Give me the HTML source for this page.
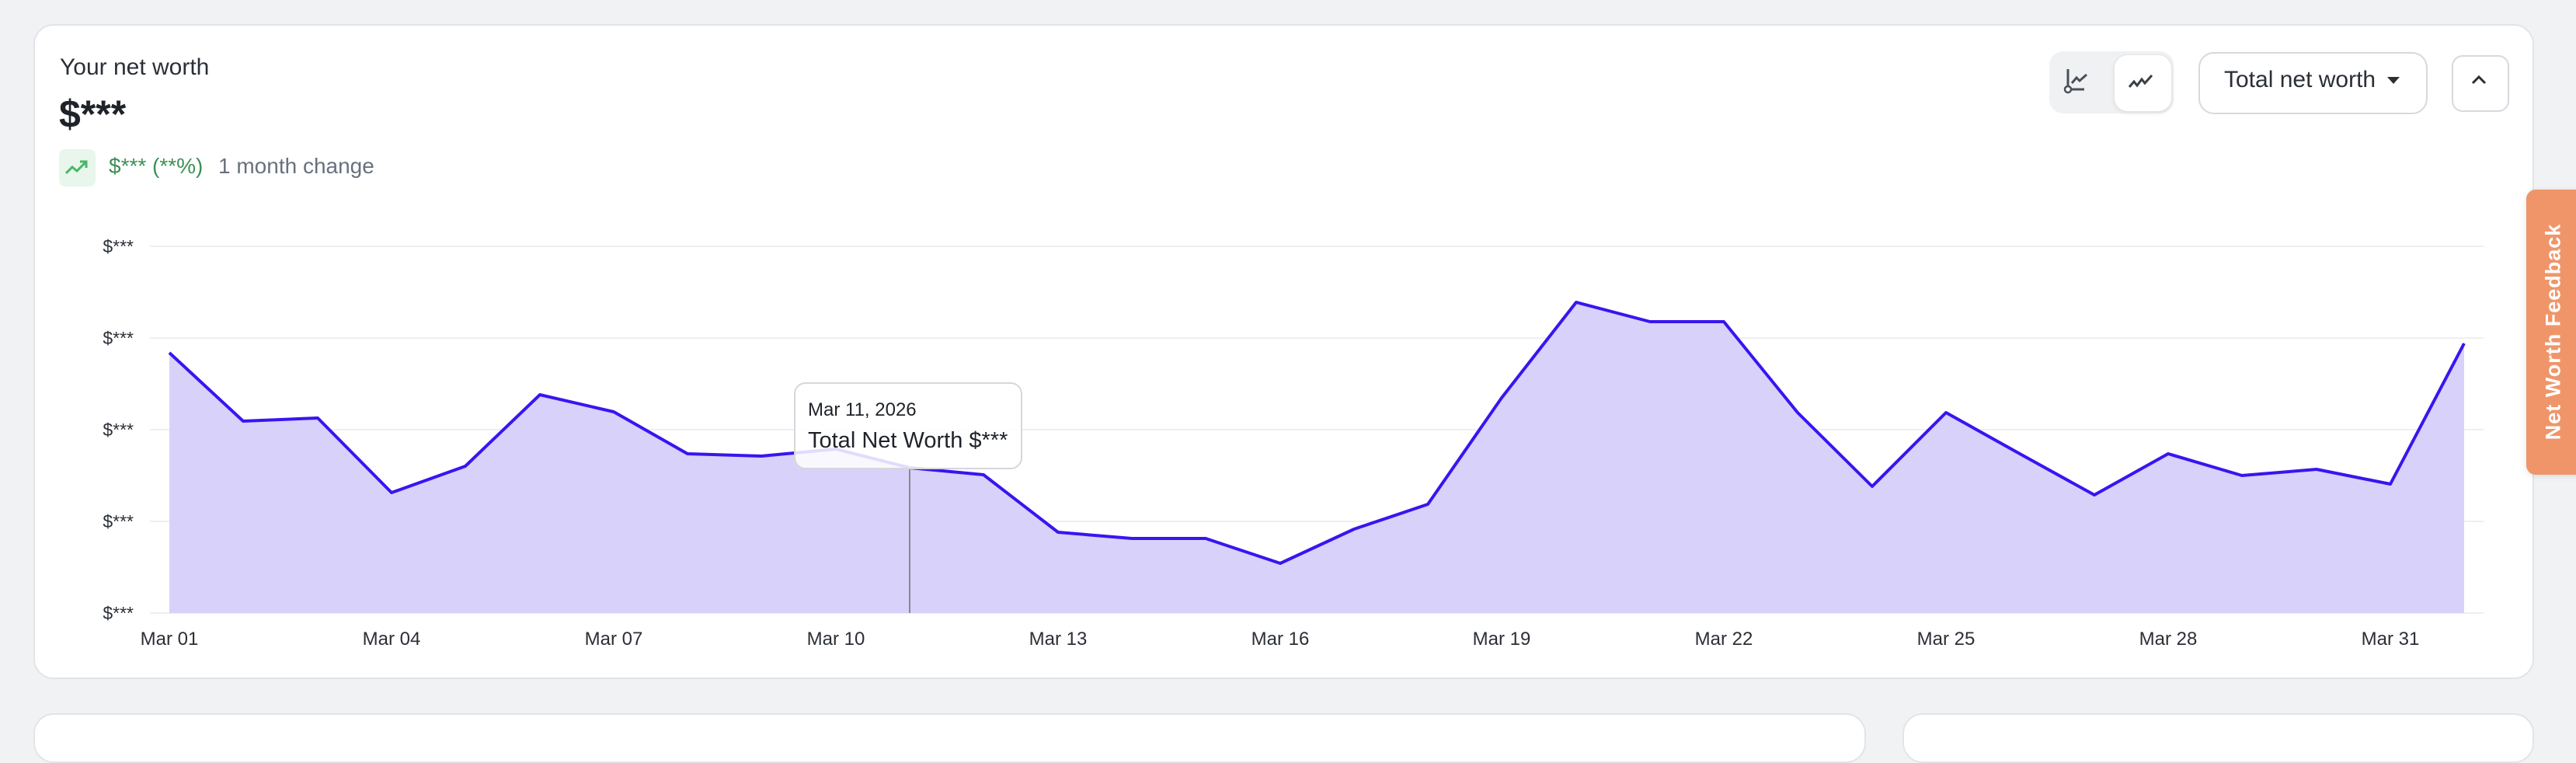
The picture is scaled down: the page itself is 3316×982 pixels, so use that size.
<!DOCTYPE html>
<html><head><meta charset="utf-8"><style>
html,body{margin:0;padding:0;width:3316px;height:926px;overflow:hidden;background:#f1f2f4;font-family:"Liberation Sans",sans-serif;}
.card{position:absolute;background:#fff;border:2px solid #e2e4e8;border-radius:26px;}
.t{position:absolute;white-space:nowrap;}
</style></head><body>
<div class="card" style="left:43px;top:31px;width:3215px;height:839px;"></div>
<div class="card" style="left:43px;top:918px;width:2355px;height:60px;"></div>
<div class="card" style="left:2449px;top:918px;width:809px;height:60px;"></div>

<div class="t" style="left:77px;top:70px;font-size:30px;color:#2b2f36;">Your net worth</div>
<div class="t" style="left:76px;top:118px;font-size:50px;font-weight:bold;color:#1f2329;">$***</div>
<div style="position:absolute;left:76px;top:192px;width:47px;height:48px;background:#e8f6ec;border-radius:8px;"></div>
<svg style="position:absolute;left:83px;top:203px" width="34" height="26"><polyline points="2,20 10,12 16,17 28,5" fill="none" stroke="#46b767" stroke-width="3"/><polyline points="20,5 28,5 28,13" fill="none" stroke="#46b767" stroke-width="3"/></svg>
<div class="t" style="left:140px;top:198px;font-size:28px;color:#3f8f55;">$*** (**%)</div>
<div class="t" style="left:281px;top:198px;font-size:28px;color:#68717d;">1 month change</div>

<div style="position:absolute;left:2638px;top:66px;width:160px;height:80px;background:#f0f1f3;border-radius:18px;"></div>
<div style="position:absolute;left:2721px;top:70px;width:73px;height:72px;background:#fff;border:1px solid #e4e6ea;border-radius:18px;box-shadow:0 2px 6px rgba(0,0,0,.08);"></div>
<svg style="position:absolute;left:2655px;top:85px" width="40" height="40"><path d="M7 4 V30 H28" fill="none" stroke="#4a5059" stroke-width="3"/><circle cx="7" cy="30" r="4" fill="#fff" stroke="#4a5059" stroke-width="2.5"/><polyline points="12,22 18,15 22,19 31,11" fill="none" stroke="#4a5059" stroke-width="3"/></svg>
<svg style="position:absolute;left:2738px;top:92px" width="40" height="30"><polyline points="3,20 9,13 13,18 19,10 23,15 32,5" fill="none" stroke="#3a3f47" stroke-width="3"/></svg>
<div style="position:absolute;left:2830px;top:67px;width:291px;height:76px;border:2px solid #d6d9de;border-radius:20px;background:#fff;"></div>
<div class="t" style="left:2863px;top:86px;font-size:30px;color:#2b2f36;">Total net worth</div>
<svg style="position:absolute;left:3072px;top:98px" width="18" height="12"><polygon points="1,1 17,1 9,10" fill="#2b2f36"/></svg>
<div style="position:absolute;left:3156px;top:71px;width:70px;height:69px;border:2px solid #d6d9de;border-radius:14px;background:#fff;"></div>
<svg style="position:absolute;left:3180px;top:96px" width="22" height="14"><polyline points="3,11 11,3 19,11" fill="none" stroke="#2b2f36" stroke-width="3"/></svg>

<svg style="position:absolute;left:0;top:0" width="3316" height="926">
<g stroke="#eeeff1" stroke-width="2">
<line x1="193" y1="317" x2="3197" y2="317"/><line x1="193" y1="435" x2="3197" y2="435"/><line x1="193" y1="553" x2="3197" y2="553"/><line x1="193" y1="671" x2="3197" y2="671"/><line x1="193" y1="789" x2="3197" y2="789"/>
</g>
<g font-family="Liberation Sans, sans-serif" font-size="23" fill="#2b2f36" text-anchor="end">
<text x="172" y="325">$***</text><text x="172" y="443">$***</text><text x="172" y="561">$***</text><text x="172" y="679">$***</text><text x="172" y="797">$***</text>
</g>
<polygon fill="#d8d1fa" points="218,789 218,454 313,542 409,538 504,634 599,600 695,508 790,530 885,584 980,587 1076,578 1171,602 1266,611 1362,685 1457,693 1552,693 1648,725 1743,681 1838,649 1933,512 2029,389 2124,414 2219,414 2314,531 2410,626 2505,531 2600,584 2696,637 2791,584 2886,612 2982,604 3077,623 3172,442 3172,789"/>
<polyline fill="none" stroke="#3a14f0" stroke-width="4" stroke-linejoin="round" points="218,454 313,542 409,538 504,634 599,600 695,508 790,530 885,584 980,587 1076,578 1171,602 1266,611 1362,685 1457,693 1552,693 1648,725 1743,681 1838,649 1933,512 2029,389 2124,414 2219,414 2314,531 2410,626 2505,531 2600,584 2696,637 2791,584 2886,612 2982,604 3077,623 3172,442"/>
<line x1="1171" y1="600" x2="1171" y2="789" stroke="#8a8a90" stroke-width="2"/>
<g font-family="Liberation Sans, sans-serif" font-size="24" fill="#2b2f36" text-anchor="middle">
<text x="218" y="830">Mar 01</text><text x="504" y="830">Mar 04</text><text x="790" y="830">Mar 07</text><text x="1076" y="830">Mar 10</text><text x="1362" y="830">Mar 13</text><text x="1648" y="830">Mar 16</text><text x="1933" y="830">Mar 19</text><text x="2219" y="830">Mar 22</text><text x="2505" y="830">Mar 25</text><text x="2791" y="830">Mar 28</text><text x="3077" y="830">Mar 31</text>
</g>
<rect x="1023" y="493" width="292" height="110" rx="14" fill="rgba(255,255,255,0.85)" stroke="#d4d7dc" stroke-width="2"/>
<text x="1040" y="535" font-family="Liberation Sans, sans-serif" font-size="24" fill="#1f2329">Mar 11, 2026</text>
<text x="1040" y="576" font-family="Liberation Sans, sans-serif" font-size="29" fill="#1f2329">Total Net Worth $***</text>
</svg>

<div style="position:absolute;left:3252px;top:244px;width:70px;height:367px;background:#f0956a;border-radius:12px 0 0 12px;box-shadow:0 2px 8px rgba(0,0,0,.1);"></div>
<div class="t" style="left:3287px;top:427px;transform:translate(-50%,-50%) rotate(-90deg);font-size:27px;font-weight:bold;color:#fff;letter-spacing:1px;">Net Worth Feedback</div>
</body></html>
